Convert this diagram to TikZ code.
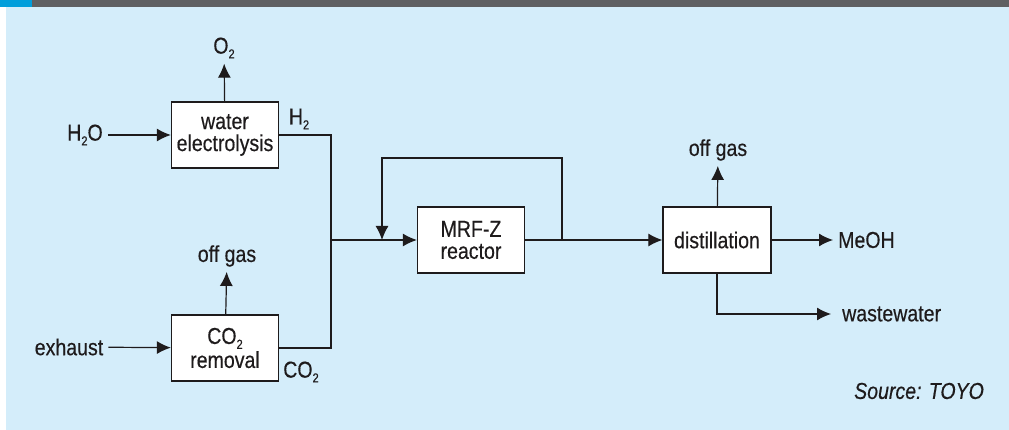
\documentclass[tikz,border=0pt]{standalone}
\usepackage{fontspec}
\setmainfont[FakeStretch=0.85, FakeBold=0.4]{Liberation Sans}
\usepackage{tikz}
\usetikzlibrary{
  arrows.meta,%
  calc,%
  positioning
}
\definecolor{bgblue}{RGB}{212,237,250}
\definecolor{bargrey}{RGB}{95,96,98}
\definecolor{barcyan}{RGB}{0,158,219}
\definecolor{ink}{RGB}{30,27,28}
\tikzset{>={Latex[length=14pt,width=13pt]}}
\tikzset{font=\fontsize{23}{26}\selectfont}
\tikzset{unit/.style={draw=ink, fill=white, line width=1.3pt, align=center,
    minimum width=107pt, minimum height=66pt, inner sep=2pt, text=ink},
  lbl/.style={inner sep=5pt, text=ink},
  flow/.style={draw=ink, line width=1.2pt}}
\newcommand{\sub}[1]{\raisebox{-0.4ex}{\fontsize{13}{13}\selectfont #1}}

\begin{document}
\begin{tikzpicture}[x=1pt, y=-1pt]
          \useasboundingbox (0,0) rectangle (1009,430);
          % background and top bar
          \fill[white] (0,0) rectangle (1009,430);
          \fill[bgblue] (6,7) rectangle (1009,430);
          \fill[bargrey] (0,0) rectangle (1009,7);
          \fill[barcyan] (0,0) rectangle (32,7);
          % units
          \node[unit] (welec) at (225,135) {water\\[-4pt]electrolysis};
          \node[unit] (co2rem) at (225,348) {CO\sub{2}\\[-2pt]removal};
          \node[unit] (reactor) at (471,240) {MRF-Z\\[-4pt]reactor};
          \node[unit, minimum width=108pt] (distil) at (717,240) {distillation};
          % streams
          \node[lbl] (h2o) at (85,135) {H\sub{2}O};
          \node[lbl] (o2) at (224,48) {O\sub{2}};
          \node[lbl] (h2) at (299,119) {H\sub{2}};
          \node[lbl] (exhaust) at (69,347) {exhaust};
          \node[lbl] (offgasA) at (227,256) {off gas};
          \node[lbl] (co2) at (301,372) {CO\sub{2}};
          \node[lbl] (offgasB) at (718,150) {off gas};
          \node[lbl, anchor=west] (meoh) at (833,240) {MeOH};
          \node[lbl, anchor=west] (waste) at (837,314) {wastewater};
          \node[lbl] (source) at (919,391) {\itshape Source: TOYO};
          \coordinate (mix) at (331,240);
          \coordinate (rin) at (382,240);
          \coordinate (rsplit) at (562,240);
          % connectors
          \draw[flow, ->] (h2o) -- (welec);
          \draw[flow, ->] (welec) -- (o2);
          \draw[flow, ->] (exhaust) -- (co2rem);
          \draw[flow, ->] (co2rem) -- (offgasA);
          \draw[flow] (welec.east) -| (mix);
          \draw[flow] (co2rem.east) -| (mix);
          \draw[flow, ->] (mix) -- (reactor.west);
          \draw[flow, ->] (rsplit) -- ++(0,-82) -| (rin);
          \draw[flow, ->] (reactor.east) -- (distil.west);
          \draw[flow, ->] (distil) -- (offgasB);
          \draw[flow, ->] (distil.east) -- (meoh.west);
          \draw[flow, ->] (distil.south) |- ([xshift=-6pt]waste.west);
        \end{tikzpicture}
\end{document}
